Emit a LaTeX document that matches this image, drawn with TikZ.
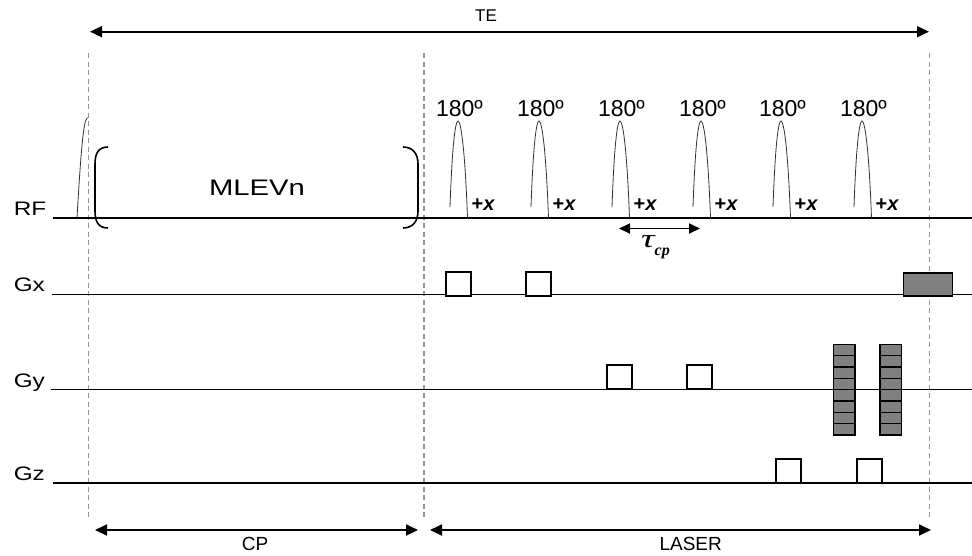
\documentclass[tikz,border=0pt]{standalone}
\usepackage{fontspec}
\setmainfont{Liberation Sans}
\newfontfamily\greekfont{Liberation Serif}
\usetikzlibrary{arrows.meta,calc}
\definecolor{LobeClr}{RGB}{128,128,128}
\definecolor{MarkClr}{RGB}{150,150,150}
\definecolor{PulseClr}{RGB}{50,50,50}

\begin{document}
\begin{tikzpicture}[x=1pt,y=-1pt,
  axis/.style={line width=1.9pt},
  marker/.style={draw=MarkClr,line width=1.3pt,dash pattern=on 5pt off 3.5pt},
  span/.style={line width=1.8pt,{Triangle[length=12pt,width=11pt]}-{Triangle[length=12pt,width=11pt]}},
  lobe/.style={draw=PulseClr,line width=0.8pt},
  blip/.style={draw,line width=2pt,fill=white,minimum width=25pt,minimum height=24pt,inner sep=0pt},
  slab/.style={draw,line width=1.6pt,fill=LobeClr,inner sep=0pt},
  chan/.style={anchor=base west,inner sep=0pt,font=\fontsize{19.5}{22}\selectfont,xscale=1.25},
  deg/.style={anchor=base,inner sep=0pt,font=\fontsize{23}{26}\selectfont},
  phase/.style={anchor=base west,inner sep=0pt,font=\bfseries\fontsize{20}{22}\selectfont},
  tag/.style={inner sep=0pt,font=\fontsize{19}{22}\selectfont}]
\useasboundingbox (0,0) rectangle (972,555);

% Timing marks.
\foreach \name/\x in {start/88.7,mid/424,stop/929.3}{
  \coordinate (\name T) at (\x,53);
  \coordinate (\name B) at (\x,517);
  \draw[marker] (\name T) -- (\name B);
}

% Channels.
\foreach \name/\y/\s/\b in {RF/218/53/215,Gx/294.5/52/291.5,Gy/389.5/51/387,Gz/483/53/480}{
  \coordinate (\name s) at (\s,\y);
  \coordinate (\name e) at (972,\y);
  \draw[axis] (\name s) -- (\name e);
  \node[chan] (\name lbl) at (13.5,\b) {\name};
}

% Excitation and MLEV block.
\draw[lobe] (77,218) .. controls (80,165) and (83,125) .. (86,120) -- (87.5,117.5);
\draw[line width=1.6pt] (108,147) .. controls (98,147) and (95,154) .. (95,164) -- (95,211)
  .. controls (95,221) and (98,228) .. (108,228);
\draw[line width=1.6pt] (403,147) .. controls (413,147) and (418,154) .. (418,164) -- (418,211)
  .. controls (418,221) and (413,228) .. (403,228);
\node[tag,font=\fontsize{22.5}{26}\selectfont,xscale=1.3] (mlev) at (257,188) {MLEVn};

% Refocusing pulses.
\foreach \p [count=\i] in {458,539,620,701,781,862}{
  \draw[lobe] (\p-8,207) .. controls (\p-6,150) and (\p-3,121) .. (\p,121)
    .. controls (\p+3,121) and (\p+7,150) .. (\p+9.5,218);
  \node[deg] (deg\i) at (\p+1.5,116.5) {180º};
  \node[phase] (ph\i) at (\p+13.5,210.7) {+\textit{x}};
}

% Echo spacing.
\coordinate (tauL) at (619,228.5);
\coordinate (tauR) at (700,228.5);
\draw[span,{Triangle[length=11pt,width=10pt]}-{Triangle[length=11pt,width=10pt]}] (tauL) -- (tauR);
\node[anchor=base west,inner sep=0pt] (tau) at (641,247)
  {\greekfont\itshape\fontsize{26}{28}\selectfont\scalebox{1.45}[1]{τ}\raisebox{-8pt}{\bfseries\fontsize{16}{18}\selectfont cp}};

% Gradients.
\node[blip] (gx1) at (458.3,284.2) {};
\node[blip] (gx2) at (538.3,284.2) {};
\node[blip] (gy1) at (619,377) {};
\node[blip] (gy2) at (699,377) {};
\node[blip] (gz1) at (788.3,471) {};
\node[blip] (gz2) at (869,471) {};
\node[slab,minimum width=49pt,minimum height=23pt] (crush) at (927.8,284.2) {};
\foreach \c/\x in {a/844.3,b/890.8}{
  \foreach \k in {0,...,7}{
    \node[slab,minimum width=21.5pt,minimum height=11.34pt] (ph\c\k) at (\x,{344.3+11.34*(\k+0.5)}) {};
  }
}

% Durations.
\coordinate (TEl) at (90,31.7);
\coordinate (TEr) at (929,31.7);
\draw[span] (TEl) -- (TEr);
\node[tag,font=\fontsize{17}{20}\selectfont] (te) at (486,16) {TE};
\coordinate (CPl) at (95,530);
\coordinate (CPr) at (418,530);
\draw[span] (CPl) -- (CPr);
\node[tag] (cp) at (255,544) {CP};
\coordinate (LSl) at (430,530);
\coordinate (LSr) at (931,530);
\draw[span] (LSl) -- (LSr);
\node[tag] (laser) at (690.7,544) {LASER};
\end{tikzpicture}
\end{document}
